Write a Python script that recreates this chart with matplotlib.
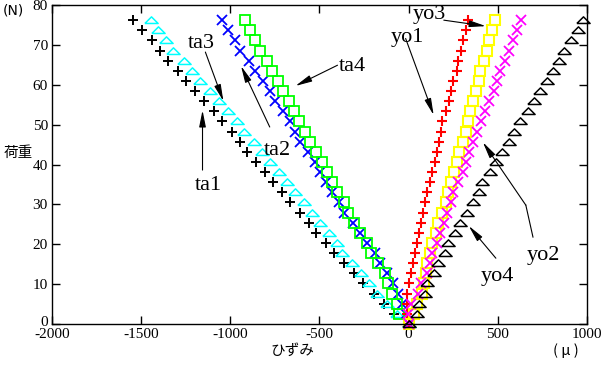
import matplotlib
matplotlib.use("Agg")
import matplotlib.pyplot as plt
import matplotlib.transforms as mtransforms
from matplotlib.lines import Line2D

plt.rcParams["axes.unicode_minus"] = False

# ---- data ----
load = [0, 2.54, 5.08, 7.62, 10.16, 12.7, 15.24, 17.78, 20.32, 22.86, 25.4,
        27.94, 30.48, 33.02, 35.56, 38.1, 40.64, 43.18, 45.72, 48.26, 50.8,
        53.34, 55.88, 58.42, 60.96, 63.5, 66.04, 68.58, 71.12, 73.66, 76.2]

ta1 = [0, -80, -140, -197, -258, -309, -365, -420, -465, -517, -560,
       -611, -663, -710, -760, -803, -854, -906, -948, -990, -1045,
       -1094, -1146, -1197, -1247, -1296, -1347, -1393, -1440, -1496, -1543]
ta3 = [0, -63, -124, -176, -223, -270, -316, -372, -401, -448, -498,
       -541, -588, -635, -685, -729, -775, -822, -869, -925, -962,
       -1015, -1066, -1112, -1169, -1215, -1262, -1319, -1360, -1408, -1446]
ta2 = [0, -15, -35, -62, -90, -124, -160, -191, -232, -274, -310,
       -363, -392, -429, -466, -498, -527, -566, -607, -635, -665,
       -704, -747, -775, -816, -860, -897, -944, -972, -1015, -1047]
ta4 = [0, -54, -63, -92, -116, -135, -170, -210, -236, -274, -307,
       -341, -363, -404, -429, -457, -485, -517, -551, -579, -616,
       -644, -672, -704, -732, -766, -794, -831, -860, -888, -916]
yo1 = [0, -8, -10, -10, 2, 11, 26, 34, 45, 58, 71,
       83, 90, 101, 120, 133, 146, 157, 170, 184, 189,
       208, 226, 236, 246, 270, 277, 292, 302, 320, 333]
yo3 = [0, 30, 45, 77, 86, 96, 105, 120, 133, 152, 165,
       189, 208, 221, 236, 254, 270, 283, 302, 320, 333,
       344, 363, 376, 395, 401, 420, 438, 451, 465, 483]
yo2 = [0, -4, 15, 52, 71, 105, 120, 133, 161, 176, 198,
       217, 236, 251, 277, 302, 320, 339, 363, 382, 408,
       427, 451, 476, 498, 513, 539, 563, 583, 607, 629]
yo4 = [0, 45, 58, 90, 105, 142, 165, 202, 221, 258, 288,
       326, 358, 395, 414, 457, 489, 526, 563, 588, 625,
       667, 701, 738, 775, 807, 841, 872, 910, 948, 979]

x_ticks = [-2000, -1500, -1000, -500, 0, 500, 1000]
y_ticks = [0, 10, 20, 30, 40, 50, 60, 70, 80]

# ---- style ----
serif = ["Liberation Serif", "DejaVu Serif"]
cjk = ["Noto Sans CJK JP", "DejaVu Sans"]
flat_tri = [(-1.0, -0.45), (1.0, -0.45), (0.0, 0.55), (-1.0, -0.45)]

fig = plt.figure(figsize=(6.03, 3.72), dpi=100)
ax = fig.add_axes([52 / 603, 1 - 324 / 372, 535 / 603, 319 / 372])

def plot_series(xs, color, marker, ms, mew=1.0):
    ax.plot(xs, load, linestyle="none", marker=marker, markersize=ms,
            markerfacecolor="none", markeredgecolor=color, markeredgewidth=mew,
            clip_on=False)

plot_series(ta1, "black", "+", 7, 1.4)
plot_series(ta3, "#00ffff", flat_tri, 9.5, 1.1)
plot_series(ta2, "#0000ff", "x", 6.5, 1.3)
plot_series(ta4, "#00ff00", "s", 7, 1.3)
plot_series(yo1, "#ff0000", "+", 7, 1.5)
plot_series(yo3, "#ffff00", "s", 7, 1.5)
plot_series(yo2, "#ff00ff", "x", 6.5, 1.3)
plot_series(yo4, "black", flat_tri, 9.5, 1.1)

ax.set_xlim(-2000, 1000)
ax.set_ylim(0, 80)
ax.set_xticks(x_ticks)
ax.set_yticks(y_ticks)
ax.tick_params(direction="in", length=6, width=1, top=True, right=True,
               labelsize=11, pad=3)
for lab in ax.get_xticklabels() + ax.get_yticklabels():
    lab.set_family(serif)
ylab0 = ax.get_yticklabels()[0]
ylab0.set_transform(ylab0.get_transform() +
                    mtransforms.ScaledTranslation(0, 3 / 100, fig.dpi_scale_trans))
for s in ax.spines.values():
    s.set_linewidth(1.0)

# axis texts
fig.text(3 / 603, 1 - 11 / 372, "(N)", family=["DejaVu Sans"], fontsize=10,
         ha="left", va="center")
fig.text(4 / 603, 1 - 153 / 372, "荷重", family=cjk, fontsize=10.5,
         ha="left", va="center")
fig.text(292 / 603, 1 - 351 / 372, "ひずみ", family=cjk, fontsize=10.5,
         ha="center", va="center")
fig.text(566 / 603, 1 - 351 / 372, "( μ )", family=cjk, fontsize=10.5,
         ha="center", va="center")

# labels with arrows
arrow = dict(arrowstyle="-|>,head_length=1.0,head_width=0.2", color="black",
             lw=0.8, shrinkA=0, shrinkB=0, mutation_scale=10)
label_kw = dict(family=serif, fontsize=16, ha="center", va="center")

ax.text(-1163, 70.4, "ta3", **label_kw)
ax.annotate("", xy=(-1039, 55.9), xytext=(-1140, 68.2), arrowprops=arrow)
ax.text(-1124, 34.8, "ta1", **label_kw)
ax.annotate("", xy=(-1156, 53.6), xytext=(-1156, 38.6), arrowprops=arrow)
ax.text(-736, 43.6, "ta2", **label_kw)
ax.annotate("", xy=(-940, 64.7), xytext=(-779, 49.4), arrowprops=arrow)
ax.text(-315, 64.7, "ta4", **label_kw)
ax.annotate("", xy=(-635, 59.7), xytext=(-399, 64.9), arrowprops=arrow)
ax.text(-6, 71.9, "yo1", **label_kw)
ax.annotate("", xy=(140, 52.4), xytext=(-17, 71.6), arrowprops=arrow)
ax.text(118, 77.6, "yo3", **label_kw)
ax.annotate("", xy=(433, 74.7), xytext=(197, 76.2), arrowprops=arrow)
ax.text(758, 17.3, "yo2", **label_kw)
ax.add_line(Line2D([697, 657], [21.8, 29.8], color="black", lw=0.8))
ax.annotate("", xy=(416, 45.6), xytext=(657, 29.8), arrowprops=arrow)
ax.text(500, 12.0, "yo4", **label_kw)
ax.annotate("", xy=(337, 24.6), xytext=(489, 16.5), arrowprops=arrow)

fig.savefig("out.png", dpi=100)
